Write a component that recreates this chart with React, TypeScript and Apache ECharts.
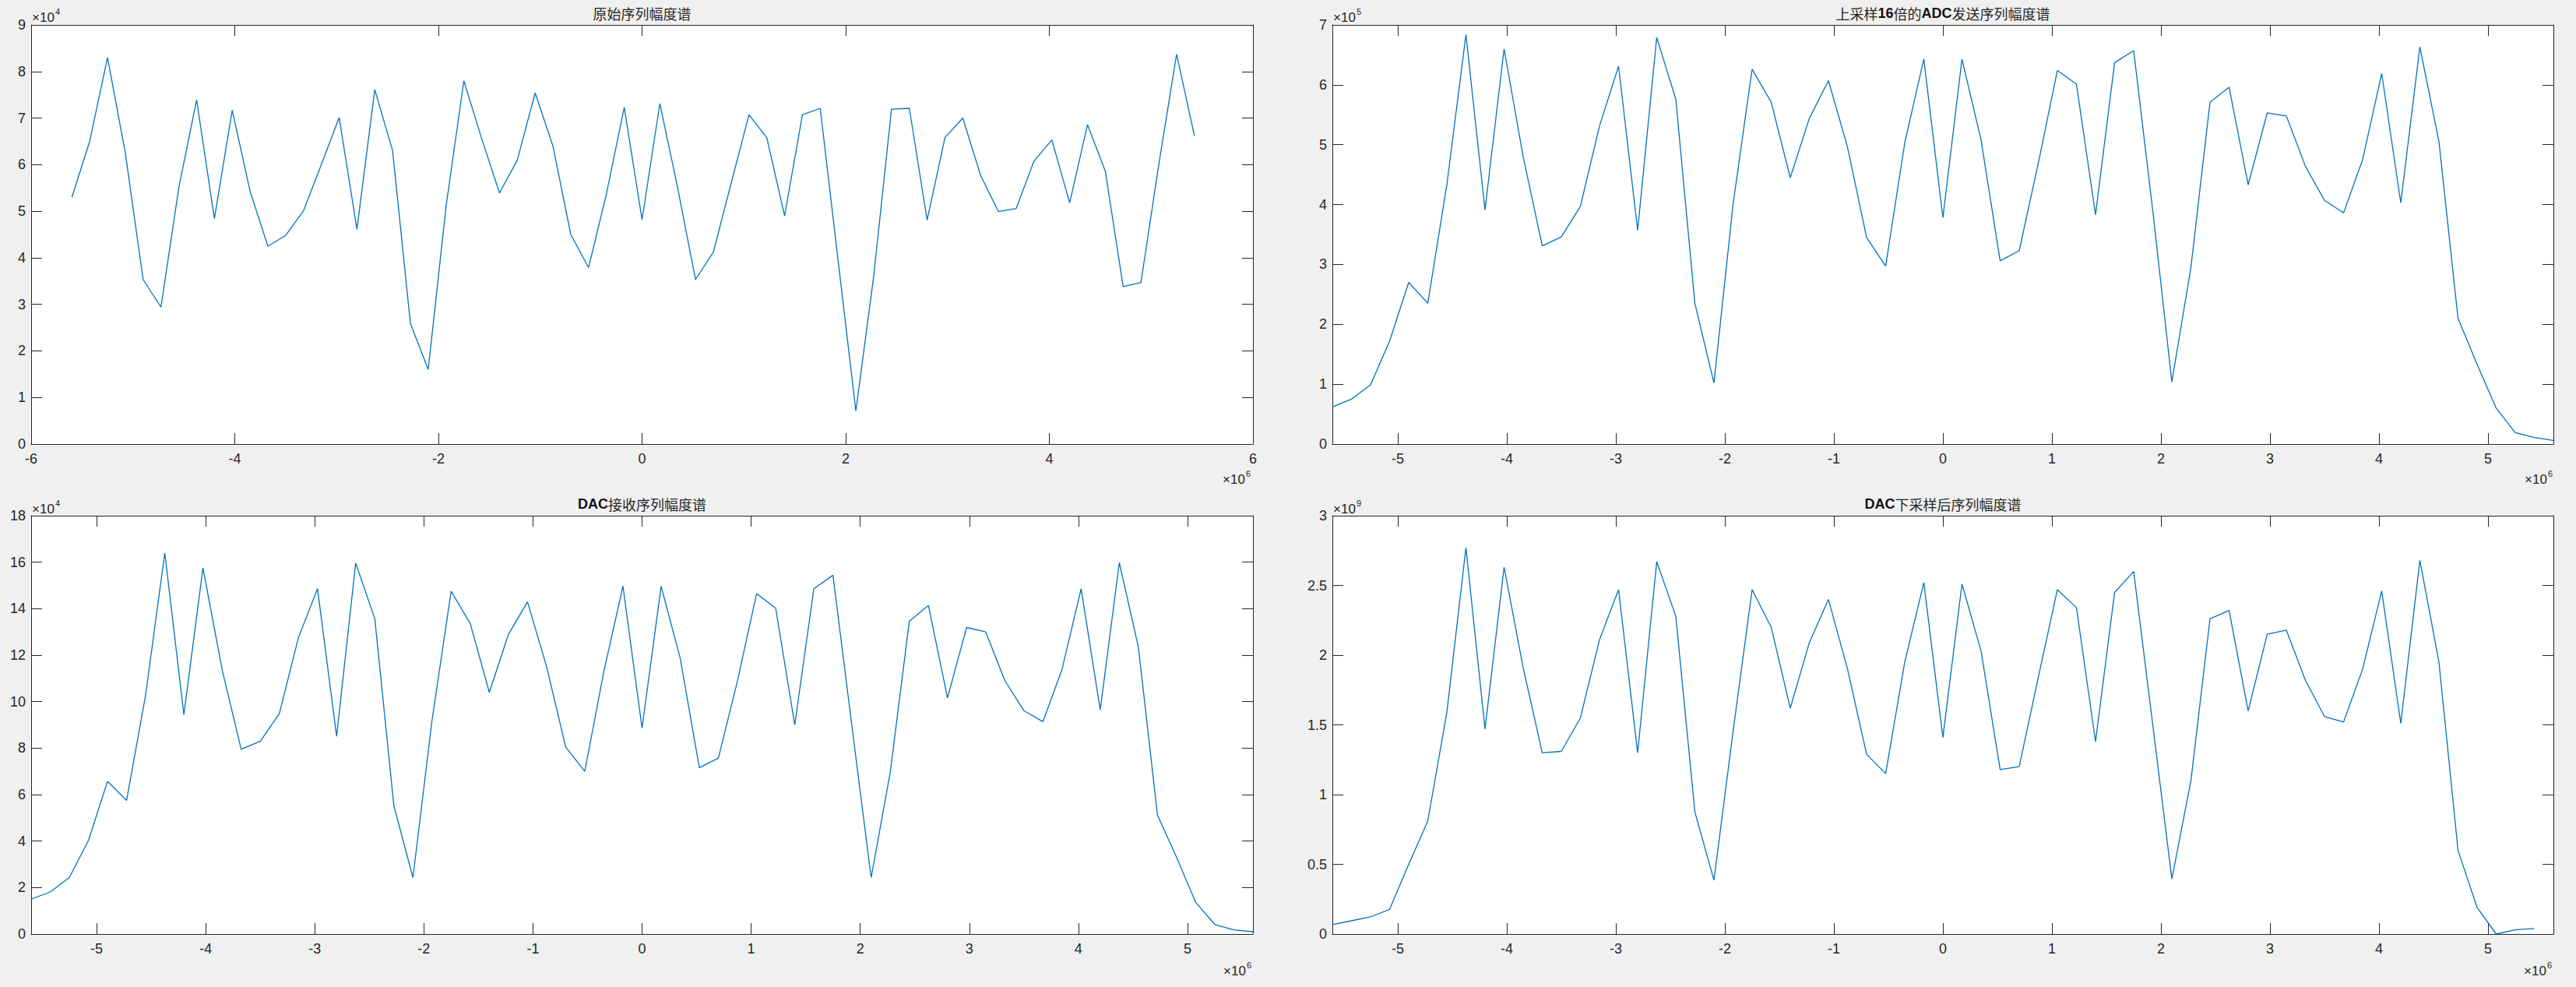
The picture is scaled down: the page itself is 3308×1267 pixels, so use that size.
import React, { useEffect, useRef } from "react";
import * as echarts from "echarts";

// Frequency bins, in units of 10^6 Hz
const freqBins65 = [
  -5.6, -5.425, -5.25, -5.075, -4.9, -4.725, -4.55, -4.375, -4.2, -4.025,
  -3.85, -3.675, -3.5, -3.325, -3.15, -2.975, -2.8, -2.625, -2.45, -2.275,
  -2.1, -1.925, -1.75, -1.575, -1.4, -1.225, -1.05, -0.875, -0.7, -0.525,
  -0.35, -0.175, 0, 0.175, 0.35, 0.525, 0.7, 0.875, 1.05, 1.225,
  1.4, 1.575, 1.75, 1.925, 2.1, 2.275, 2.45, 2.625, 2.8, 2.975,
  3.15, 3.325, 3.5, 3.675, 3.85, 4.025, 4.2, 4.375, 4.55, 4.725,
  4.9, 5.075, 5.25, 5.425, 5.6,
];
const freqBins64 = freqBins65.slice(0, 64);

// 原始序列幅度谱 (x10^4)
const origMag = [
  5.3, 6.5, 8.3, 6.25, 3.53, 2.94, 5.5, 7.39, 4.84, 7.17,
  5.43, 4.25, 4.48, 5.01, 6.0, 7.01, 4.61, 7.61, 6.3, 2.59,
  1.6, 5.1, 7.8, 6.56, 5.39, 6.1, 7.54, 6.4, 4.5, 3.79,
  5.37, 7.23, 4.82, 7.31, 5.5, 3.53, 4.12, 5.6, 7.07, 6.58,
  4.9, 7.07, 7.21, 3.95, 0.71, 3.6, 7.19, 7.21, 4.81, 6.58,
  7.0, 5.77, 4.99, 5.06, 6.08, 6.53, 5.18, 6.86, 5.86, 3.38,
  3.47, 6.0, 8.37, 6.62,
];

// 上采样16倍的ADC发送序列幅度谱 (x10^5)
const adcMag = [
  0.62, 0.75, 0.99, 1.72, 2.7, 2.35, 4.33, 6.84, 3.91, 6.6,
  4.8, 3.31, 3.46, 3.97, 5.31, 6.31, 3.57, 6.79, 5.76, 2.35,
  1.02, 4.0, 6.26, 5.71, 4.45, 5.44, 6.07, 4.96, 3.45, 2.97,
  5.03, 6.43, 3.78, 6.43, 5.08, 3.06, 3.23, 4.69, 6.24, 6.01,
  3.83, 6.37, 6.57, 3.9, 1.04, 2.95, 5.71, 5.96, 4.33, 5.53,
  5.48, 4.64, 4.07, 3.86, 4.75, 6.19, 4.03, 6.63, 5.05, 2.1,
  1.33, 0.6, 0.19, 0.11, 0.06,
];

// DAC接收序列幅度谱 (x10^4)
const dacMag = [
  1.5, 1.81, 2.43, 4.02, 6.57, 5.75, 10.3, 16.4, 9.44, 15.75,
  11.39, 7.95, 8.29, 9.48, 12.75, 14.86, 8.51, 15.96, 13.57, 5.52,
  2.43, 9.2, 14.75, 13.36, 10.4, 12.89, 14.29, 11.5, 8.05, 7.0,
  11.3, 14.97, 8.86, 14.96, 11.86, 7.16, 7.57, 10.9, 14.65, 14.02,
  9.0, 14.86, 15.44, 8.9, 2.43, 6.95, 13.46, 14.14, 10.16, 13.19,
  13.0, 10.91, 9.61, 9.14, 11.39, 14.86, 9.64, 15.98, 12.34, 5.11,
  3.3, 1.36, 0.41, 0.18, 0.1,
];

// DAC下采样后序列幅度谱 (x10^9)
const downMag = [
  0.068, 0.095, 0.123, 0.177, 0.5, 0.81, 1.59, 2.77, 1.47, 2.63,
  1.91, 1.3, 1.31, 1.55, 2.11, 2.47, 1.3, 2.67, 2.28, 0.875,
  0.386, 1.45, 2.47, 2.2, 1.62, 2.09, 2.4, 1.9, 1.29, 1.15,
  1.95, 2.52, 1.41, 2.51, 2.03, 1.18, 1.2, 1.84, 2.47, 2.34,
  1.38, 2.45, 2.6, 1.5, 0.395, 1.1, 2.26, 2.32, 1.6, 2.15,
  2.18, 1.82, 1.56, 1.52, 1.9, 2.46, 1.51, 2.68, 1.95, 0.6,
  0.19, 0.0, 0.03, 0.04,
];

// Tick labels
const xTicksWide = [-6, -4, -2, 0, 2, 4, 6];
const xTicksUnit = [-5, -4, -3, -2, -1, 0, 1, 2, 3, 4, 5];
const yTicksOrig = [0, 1, 2, 3, 4, 5, 6, 7, 8, 9];
const yTicksAdc = [0, 1, 2, 3, 4, 5, 6, 7];
const yTicksDac = [0, 2, 4, 6, 8, 10, 12, 14, 16, 18];
const yTicksDown = [0, 0.5, 1, 1.5, 2, 2.5, 3];

const titles = [
  "原始序列幅度谱",
  "上采样{b|16}倍的{b|ADC}发送序列幅度谱",
  "{b|DAC}接收序列幅度谱",
  "{b|DAC}下采样后序列幅度谱",
];
const yExponents = ["4", "5", "4", "9"];
const xExponent = "6";

const AXIS = "#262626";
const LINE = "#0072BD";
const LATIN = "'Liberation Sans', Arial, sans-serif";
const CJK = "'Noto Sans CJK SC', sans-serif";

export default function App() {
  const ref = useRef<HTMLDivElement>(null);

  useEffect(() => {
    if (!ref.current) return;
    const chart = echarts.init(ref.current, undefined, { renderer: "svg" });

    const grids = [
      { left: 40, top: 32, width: 1569, height: 538 },
      { left: 1711, top: 32, width: 1568, height: 538 },
      { left: 40, top: 662, width: 1569, height: 537 },
      { left: 1711, top: 662, width: 1568, height: 537 },
    ];

    const panels = [
      { x: freqBins64, y: origMag, xMin: -6, xMax: 6, xTicks: xTicksWide, yMax: 9, yTicks: yTicksOrig },
      { x: freqBins65, y: adcMag, xMin: -5.6, xMax: 5.6, xTicks: xTicksUnit, yMax: 7, yTicks: yTicksAdc },
      { x: freqBins65, y: dacMag, xMin: -5.6, xMax: 5.6, xTicks: xTicksUnit, yMax: 18, yTicks: yTicksDac },
      { x: freqBins64, y: downMag, xMin: -5.6, xMax: 5.6, xTicks: xTicksUnit, yMax: 3, yTicks: yTicksDown },
    ];

    const xAxes: any[] = [];
    const yAxes: any[] = [];
    const series: any[] = [];

    panels.forEach((p, i) => {
      const tickBase = {
        show: true,
        inside: true,
        length: 14,
        lineStyle: { color: AXIS, width: 1 },
      };
      const lineBase = { show: true, onZero: false, lineStyle: { color: AXIS, width: 1 } };
      const labelBase = {
        fontSize: 18,
        color: AXIS,
        fontFamily: LATIN,
        formatter: (v: number) => String(v),
      };
      ["bottom", "top"].forEach((pos) => {
        xAxes.push({
          type: "value",
          gridIndex: i,
          position: pos,
          min: p.xMin,
          max: p.xMax,
          axisLine: lineBase,
          axisTick: { ...tickBase, customValues: p.xTicks },
          axisLabel: { ...labelBase, show: pos === "bottom", margin: 10, customValues: p.xTicks },
          splitLine: { show: false },
        });
      });
      ["left", "right"].forEach((pos) => {
        yAxes.push({
          type: "value",
          gridIndex: i,
          position: pos,
          min: 0,
          max: p.yMax,
          axisLine: lineBase,
          axisTick: { ...tickBase, customValues: p.yTicks },
          axisLabel: { ...labelBase, show: pos === "left", margin: 7, customValues: p.yTicks },
          splitLine: { show: false },
        });
      });
      series.push({
        type: "line",
        xAxisIndex: i * 2,
        yAxisIndex: i * 2,
        data: p.x.map((f, k) => [f, p.y[k]]),
        symbol: "none",
        showSymbol: false,
        lineStyle: { color: LINE, width: 1.3 },
        itemStyle: { color: LINE },
        silent: true,
      });
    });

    const titleTops = [8, 8, 638, 638];
    const title = titles.map((t, i) => ({
      text: t,
      left: grids[i].left + grids[i].width / 2,
      top: titleTops[i],
      textAlign: "center",
      padding: 0,
      textStyle: {
        fontSize: 18,
        fontWeight: "normal",
        color: AXIS,
        fontFamily: CJK,
        rich: {
          b: { fontSize: 18, fontWeight: "bold", fontFamily: LATIN, color: "#111" },
        },
      },
    }));

    const mkText = (text: string, x: number, y: number, size: number) => ({
      type: "text",
      x,
      y,
      silent: true,
      style: {
        text,
        fontSize: size,
        fontFamily: LATIN,
        fill: AXIS,
        textAlign: "left",
        align: "left",
        textVerticalAlign: "middle",
        verticalAlign: "middle",
      },
    });

    const graphic: any[] = [];
    // y-axis exponent labels (top-left of each plot)
    const yExpPos = [
      [41, 22.5, 15],
      [1712, 22.5, 15],
      [41, 653, 646],
      [1712, 653, 646],
    ];
    yExpPos.forEach(([x, yMain, ySup], i) => {
      graphic.push(mkText("×10", x, yMain, 17));
      graphic.push(mkText(yExponents[i], x + 30, ySup, 11));
    });
    // x-axis exponent labels (bottom-right of each plot)
    const xExpPos = [
      [1570, 615, 608],
      [3242, 615, 608],
      [1571, 1246, 1239],
      [3241, 1246, 1239],
    ];
    xExpPos.forEach(([x, yMain, ySup]) => {
      graphic.push(mkText("×10", x, yMain, 17));
      graphic.push(mkText(xExponent, x + 30, ySup, 11));
    });

    chart.setOption({
      animation: false,
      backgroundColor: "#f0f0f0",
      title,
      grid: grids.map((g) => ({
        ...g,
        show: true,
        backgroundColor: "#ffffff",
        borderWidth: 0,
        containLabel: false,
      })),
      xAxis: xAxes,
      yAxis: yAxes,
      series,
      graphic,
    });

    return () => chart.dispose();
  }, []);

  return (
    <div
      ref={ref}
      style={{ position: "absolute", left: 0, top: 0, width: 3308, height: 1267 }}
    />
  );
}
